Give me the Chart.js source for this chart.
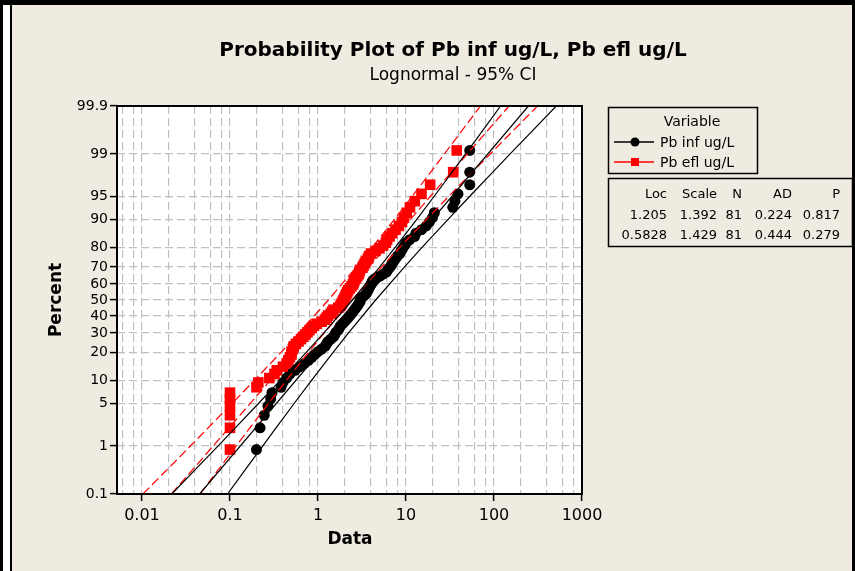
<!DOCTYPE html>
<html>
<head>
<meta charset="utf-8">
<script src="https://cdn.jsdelivr.net/npm/chart.js@4.4.1/dist/chart.umd.min.js"></script>
<style>
html, body { margin: 0; padding: 0; background: #fff; }
canvas { display: block; }
</style>
</head>
<body>
<canvas id="grafica" width="855" height="571"></canvas>
<script>
// ejes
const percentTicks = [0.1, 1, 5, 10, 20, 30, 40, 50, 60, 70, 80, 90, 95, 99, 99.9];
const dataTicks = [0.01, 0.1, 1, 10, 100, 1000];
const dataGrid = [0.006, 0.008, 0.01, 0.02, 0.04, 0.06, 0.08, 0.1, 0.2, 0.4, 0.6, 0.8,
    1, 2, 4, 6, 8, 10, 20, 40, 60, 80, 100, 200, 400, 600, 800, 1000];

// posición de cada punto (percent), 81 datos
const plotPct = [0.86, 2.09, 3.32, 4.55, 5.77, 7.00, 8.23, 9.46, 10.69, 11.92, 13.14, 14.37,
    15.60, 16.83, 18.06, 19.29, 20.52, 21.74, 22.97, 24.20, 25.43, 26.66, 27.89, 29.12,
    30.34, 31.57, 32.80, 34.03, 35.26, 36.49, 37.71, 38.94, 40.17, 41.40, 42.63, 43.86,
    45.09, 46.31, 47.54, 48.77, 50.00, 51.23, 52.46, 53.69, 54.91, 56.14, 57.37, 58.60,
    59.83, 61.06, 62.29, 63.51, 64.74, 65.97, 67.20, 68.43, 69.66, 70.88, 72.11, 73.34,
    74.57, 75.80, 77.03, 78.26, 79.48, 80.71, 81.94, 83.17, 84.40, 85.63, 86.86, 88.08,
    89.31, 90.54, 91.77, 93.00, 94.23, 95.45, 96.68, 97.91, 99.14];

// Pb inf ug/L (ordenado)
const pbInf = [0.20, 0.22, 0.245, 0.27, 0.29, 0.30, 0.38, 0.40, 0.44, 0.48, 0.55, 0.62,
    0.70, 0.78, 0.85, 0.92, 1.0, 1.1, 1.2, 1.25, 1.3, 1.4, 1.5, 1.55,
    1.6, 1.7, 1.75, 1.8, 1.9, 2.0, 2.1, 2.2, 2.3, 2.4, 2.5, 2.6,
    2.7, 2.8, 2.9, 3.0, 3.0, 3.1, 3.3, 3.5, 3.6, 3.7, 3.8, 3.9,
    4.0, 4.1, 4.2, 4.5, 5.0, 5.5, 6.0, 6.2, 6.5, 6.8, 7.0, 7.3,
    7.6, 8.0, 8.5, 8.8, 9.2, 9.6, 10, 11, 12.5, 13, 15, 17,
    18.5, 20, 21, 34, 36, 39, 53, 53, 53];

// Pb efl ug/L (ordenado)
const pbEfl = [0.1, 0.1, 0.1, 0.1, 0.1, 0.1, 0.2, 0.21, 0.28, 0.32, 0.34, 0.4,
    0.44, 0.46, 0.48, 0.5, 0.5, 0.52, 0.53, 0.56, 0.6, 0.64, 0.68, 0.72,
    0.76, 0.8, 0.85, 0.9, 0.97, 1.1, 1.2, 1.25, 1.3, 1.4, 1.45, 1.5,
    1.7, 1.8, 1.85, 1.9, 1.95, 2.0, 2.05, 2.1, 2.15, 2.2, 2.3, 2.4,
    2.5, 2.55, 2.6, 2.7, 2.8, 2.9, 2.95, 3.0, 3.2, 3.3, 3.4, 3.5,
    3.7, 3.8, 4.0, 4.5, 5.0, 5.5, 5.9, 6.1, 6.5, 7.0, 7.6, 8.3,
    9.0, 9.5, 10.2, 11.1, 12.6, 15, 18.8, 34.4, 37.7];

// rectas ajustadas y bandas de 95%
const fitPct = [0.1, 99.9];
const infFit = [0.0452, 246];
const eflFit = [0.0216, 148];
const ciPct = [0.1, 0.5, 1, 2, 5, 10, 20, 30, 50, 70, 80, 90, 95, 98, 99, 99.5, 99.9];
const infLow = [0.0218, 0.0493, 0.0730, 0.112, 0.212, 0.372, 0.727, 1.164, 2.464, 5.01, 7.57, 13.2, 20.7, 34.1, 47.4, 64.1, 118.9];
const infUp = [0.0937, 0.174, 0.235, 0.327, 0.538, 0.844, 1.471, 2.222, 4.519, 9.57, 15.3, 29.9, 52.4, 99.3, 152.5, 226, 510];
const eflLow = [0.01025, 0.0237, 0.0354, 0.055, 0.106, 0.189, 0.375, 0.607, 1.312, 2.718, 4.15, 7.35, 11.66, 19.5, 27.3, 37.2, 70.2];
const eflUp = [0.0457, 0.0862, 0.117, 0.165, 0.275, 0.437, 0.773, 1.18, 2.445, 5.28, 8.56, 17.0, 30.3, 58.3, 90.6, 135.7, 313];

// tabla
const statHead = ['Loc', 'Scale', 'N', 'AD', 'P'];
const statInf = ['1.205', '1.392', '81', '0.224', '0.817'];
const statEfl = ['0.5828', '1.429', '81', '0.444', '0.279'];

const FONT = '"DejaVu Sans", sans-serif';

// cuantil de la normal (Acklam)
function probit(p) {
    const a = [-39.69683028665376, 220.9460984245205, -275.9285104469687, 138.3577518672690, -30.66479806614716, 2.506628277459239];
    const b = [-54.47609879822406, 161.5858368580409, -155.6989798598866, 66.80131188771972, -13.28068155288572];
    const c = [-0.007784894002430293, -0.3223964580411365, -2.400758277161838, -2.549732539343734, 4.374664141464968, 2.938163982698783];
    const d = [0.007784695709041462, 0.3224671290700398, 2.445134137142996, 3.754408661907416];
    const plow = 0.02425;
    let q, r;
    if (p < plow) {
        q = Math.sqrt(-2 * Math.log(p));
        return (((((c[0] * q + c[1]) * q + c[2]) * q + c[3]) * q + c[4]) * q + c[5]) / ((((d[0] * q + d[1]) * q + d[2]) * q + d[3]) * q + 1);
    }
    if (p > 1 - plow) {
        q = Math.sqrt(-2 * Math.log(1 - p));
        return -(((((c[0] * q + c[1]) * q + c[2]) * q + c[3]) * q + c[4]) * q + c[5]) / ((((d[0] * q + d[1]) * q + d[2]) * q + d[3]) * q + 1);
    }
    q = p - 0.5; r = q * q;
    return (((((a[0] * r + a[1]) * r + a[2]) * r + a[3]) * r + a[4]) * r + a[5]) * q / (((((b[0] * r + b[1]) * r + b[2]) * r + b[3]) * r + b[4]) * r + 1);
}

// escala de probabilidad (eje Percent)
class ProbitScale extends Chart.LinearScale {
    static id = 'probit';
    determineDataLimits() {
        this.min = this.options.min;
        this.max = this.options.max;
    }
    buildTicks() {
        return percentTicks.map(v => ({ value: v }));
    }
    configure() {
        super.configure();
        this._zLo = probit(this.min / 100);
        this._zHi = probit(this.max / 100);
    }
    getPixelForValue(v) {
        const z = probit(v / 100);
        return this.getPixelForDecimal((z - this._zLo) / (this._zHi - this._zLo));
    }
    getValueForPixel(px) {
        const z = this._zLo + this.getDecimalForPixel(px) * (this._zHi - this._zLo);
        let lo = 0.0001, hi = 0.9999;
        for (let i = 0; i < 40; i++) {
            const m = (lo + hi) / 2;
            if (probit(m) < z) lo = m; else hi = m;
        }
        return 50 * (lo + hi);
    }
}
Chart.register(ProbitScale);

const puntos = (xs, ps) => xs.map((x, i) => ({ x: x, y: ps[i] }));

const marco = {
    id: 'marco',
    beforeDraw(chart) {
        const c = chart.ctx;
        const a = chart.chartArea;
        c.save();
        c.fillStyle = '#ffffff';
        c.fillRect(0, 0, 855, 571);
        c.fillStyle = '#efebe0';
        c.fillRect(12, 5, 840, 566);
        c.fillStyle = '#000';
        c.fillRect(0, 0, 855, 5);
        c.fillRect(0, 0, 3, 571);
        c.fillRect(10, 0, 2, 571);
        c.fillRect(852, 0, 3, 571);
        c.fillStyle = '#ffffff';
        c.fillRect(a.left, a.top, a.right - a.left, a.bottom - a.top);
        c.restore();
    },
    afterDraw(chart) {
        const c = chart.ctx;
        const a = chart.chartArea;
        c.save();
        c.strokeStyle = '#000';
        c.lineWidth = 2;
        c.strokeRect(a.left, a.top, a.right - a.left, a.bottom - a.top);

        c.fillStyle = '#000';
        c.textAlign = 'center';
        c.textBaseline = 'alphabetic';
        c.font = 'bold 20px ' + FONT;
        c.fillText('Probability Plot of Pb inf ug/L, Pb efl ug/L', 453, 56);
        c.font = '17px ' + FONT;
        c.fillText('Lognormal - 95% CI', 453, 80);

        c.font = 'bold 17px ' + FONT;
        c.textBaseline = 'middle';
        c.fillText('Data', 350, 540);
        c.save();
        c.translate(57, 300);
        c.rotate(-Math.PI / 2);
        c.fillText('Percent', 0, 0);
        c.restore();

        // leyenda
        c.lineWidth = 1.5;
        c.strokeRect(608.5, 107.5, 149, 66);
        c.font = '14px ' + FONT;
        c.textAlign = 'center';
        c.fillText('Variable', 692, 122);
        c.textAlign = 'left';
        const filas = [
            { y: 142, color: '#000', texto: 'Pb inf ug/L', forma: 'circle' },
            { y: 162, color: '#ff0000', texto: 'Pb efl ug/L', forma: 'rect' }
        ];
        filas.forEach(f => {
            c.strokeStyle = f.color;
            c.lineWidth = 1.5;
            c.beginPath();
            c.moveTo(614, f.y);
            c.lineTo(654, f.y);
            c.stroke();
            c.fillStyle = f.color;
            if (f.forma === 'circle') {
                c.beginPath();
                c.arc(635, f.y, 4.5, 0, Math.PI * 2);
                c.fill();
            } else {
                c.fillRect(631, f.y - 4, 8, 8);
            }
            c.fillStyle = '#000';
            c.fillText(f.texto, 660, f.y + 1);
        });

        // tabla de estadísticos
        c.strokeStyle = '#000';
        c.strokeRect(608.5, 178.5, 244, 68);
        c.textAlign = 'right';
        c.font = '13px ' + FONT;
        const colX = [667, 717, 742, 792, 840];
        [statHead, statInf, statEfl].forEach((fila, r) => {
            fila.forEach((t, i) => c.fillText(t, colX[i], 195 + r * 20.5));
        });
        c.restore();
    }
};

const lineaNegra = { showLine: true, borderColor: '#000', borderWidth: 1.2, pointRadius: 0, fill: false, order: 0 };
const lineaRoja = { showLine: true, borderColor: '#ff0000', borderWidth: 1.2, borderDash: [9, 4], pointRadius: 0, fill: false, order: 1 };

new Chart(document.getElementById('grafica').getContext('2d'), {
    type: 'scatter',
    data: {
        datasets: [
            Object.assign({ label: 'inf fit', data: puntos(infFit, fitPct) }, lineaNegra),
            Object.assign({ label: 'inf low', data: puntos(infLow, ciPct) }, lineaNegra),
            Object.assign({ label: 'inf up', data: puntos(infUp, ciPct) }, lineaNegra),
            Object.assign({ label: 'efl fit', data: puntos(eflFit, fitPct) }, lineaRoja),
            Object.assign({ label: 'efl low', data: puntos(eflLow, ciPct) }, lineaRoja),
            Object.assign({ label: 'efl up', data: puntos(eflUp, ciPct) }, lineaRoja),
            {
                label: 'Pb efl ug/L',
                data: puntos(pbEfl, plotPct),
                pointStyle: 'rect',
                pointRadius: 7.5,
                backgroundColor: '#ff0000',
                borderWidth: 0,
                order: 2
            },
            {
                label: 'Pb inf ug/L',
                data: puntos(pbInf, plotPct),
                pointStyle: 'circle',
                pointRadius: 5.5,
                backgroundColor: '#000',
                borderWidth: 0,
                order: 3
            }
        ]
    },
    options: {
        responsive: false,
        animation: false,
        devicePixelRatio: 1,
        layout: { padding: { left: 0, top: 106, right: 273, bottom: 0 } },
        plugins: {
            legend: { display: false },
            tooltip: { enabled: false }
        },
        scales: {
            x: {
                type: 'logarithmic',
                min: 0.0052,
                max: 1000,
                afterBuildTicks: scale => {
                    scale.ticks = dataGrid.map(v => ({ value: v, major: dataTicks.includes(v) }));
                },
                afterFit: scale => { scale.height = 77; },
                ticks: {
                    autoSkip: false,
                    maxRotation: 0,
                    padding: 5,
                    color: '#000',
                    font: { family: FONT, size: 16 },
                    callback: v => dataTicks.includes(v) ? String(v) : ''
                },
                grid: {
                    color: '#c0c0c0',
                    lineWidth: 1.2,
                    tickLength: 7,
                    tickWidth: 1.5,
                    tickColor: ctx => (ctx.tick && dataTicks.includes(ctx.tick.value)) ? '#000' : 'rgba(0,0,0,0)'
                },
                border: { display: false, dash: [8, 4] }
            },
            y: {
                type: 'probit',
                min: 0.1,
                max: 99.9,
                afterFit: scale => { scale.width = 117; },
                ticks: {
                    autoSkip: false,
                    padding: 2,
                    color: '#000',
                    font: { family: FONT, size: 14 },
                    callback: v => String(v)
                },
                grid: {
                    color: '#c0c0c0',
                    lineWidth: 1.2,
                    tickLength: 7,
                    tickWidth: 1.5,
                    tickColor: '#000'
                },
                border: { display: false, dash: [8, 4] }
            }
        }
    },
    plugins: [marco]
});
</script>
</body>
</html>
